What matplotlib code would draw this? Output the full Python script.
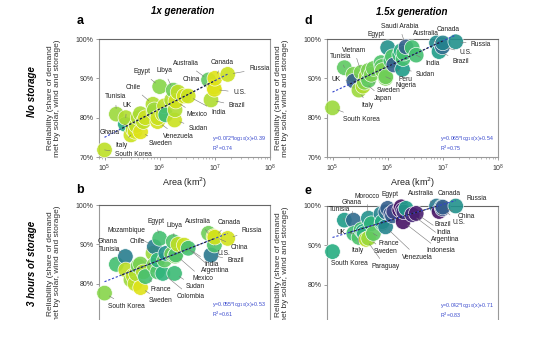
import numpy as np
import matplotlib
matplotlib.use("Agg")
import matplotlib.pyplot as plt
from matplotlib.ticker import PercentFormatter, LogLocator
from matplotlib.patches import Rectangle

plt.rcParams['font.family'] = ['Liberation Sans', 'DejaVu Sans']

# country areas (km2)
countries = ["South Korea", "Tunisia", "Ghana", "UK", "Italy", "Vietnam", "Germany",
             "Japan", "Paraguay", "Morocco", "Sweden", "Spain", "France", "Chile",
             "Turkey", "Mozambique", "Venezuela", "Nigeria", "Egypt", "Colombia",
             "South Africa", "Peru", "Iran", "Libya", "Sudan", "Indonesia", "Mexico",
             "Saudi Arabia", "Argentina", "India", "Australia", "Brazil", "China",
             "U.S.", "Canada", "Russia"]
area = [1.0e5, 1.64e5, 2.39e5, 2.43e5, 3.01e5, 3.31e5, 3.57e5,
        3.78e5, 4.07e5, 4.47e5, 4.50e5, 5.06e5, 5.51e5, 7.56e5,
        7.84e5, 8.01e5, 9.16e5, 9.24e5, 1.00e6, 1.14e6,
        1.22e6, 1.29e6, 1.65e6, 1.76e6, 1.86e6, 1.90e6, 1.96e6,
        2.15e6, 2.78e6, 3.29e6, 7.69e6, 8.52e6, 9.60e6,
        9.83e6, 9.98e6, 1.71e7]

# reliability and colour value per panel
rel_a = [0.718, 0.809, 0.783, 0.800, 0.756, 0.770, 0.765, 0.780, 0.800, 0.810, 0.764, 0.790,
         0.800, 0.834, 0.815, 0.820, 0.790, 0.800, 0.879, 0.810, 0.830, 0.807, 0.845, 0.870,
         0.794, 0.820, 0.842, 0.865, 0.855, 0.855, 0.896, 0.845, 0.878, 0.872, 0.900, 0.910]
col_a = [0.90, 0.85, 0.62, 0.88, 0.92, 0.90, 0.93, 0.90, 0.88, 0.87, 0.95, 0.90,
         0.92, 0.88, 0.90, 0.85, 0.93, 0.92, 0.82, 0.90, 0.90, 0.68, 0.88, 0.78,
         0.92, 0.88, 0.93, 0.90, 0.93, 0.92, 0.75, 0.88, 0.93, 0.95, 0.95, 0.92]

rel_b = [0.776, 0.849, 0.869, 0.835, 0.810, 0.820, 0.800, 0.825, 0.845, 0.850, 0.790, 0.830,
         0.818, 0.877, 0.847, 0.894, 0.830, 0.860, 0.915, 0.826, 0.860, 0.877, 0.875, 0.907,
         0.826, 0.870, 0.873, 0.900, 0.898, 0.890, 0.928, 0.873, 0.920, 0.898, 0.918, 0.915]
col_b = [0.82, 0.70, 0.42, 0.90, 0.85, 0.90, 0.90, 0.88, 0.78, 0.80, 0.95, 0.88,
         0.70, 0.85, 0.80, 0.42, 0.72, 0.65, 0.70, 0.65, 0.75, 0.50, 0.78, 0.72,
         0.68, 0.80, 0.72, 0.90, 0.92, 0.70, 0.78, 0.40, 0.95, 0.72, 0.93, 0.93]

rel_d = [0.825, 0.927, 0.910, 0.893, 0.870, 0.915, 0.880, 0.890, 0.905, 0.920, 0.895, 0.910,
         0.925, 0.940, 0.930, 0.920, 0.900, 0.904, 0.978, 0.945, 0.955, 0.934, 0.960, 0.970,
         0.923, 0.950, 0.964, 0.980, 0.978, 0.959, 0.990, 0.968, 0.985, 0.980, 0.990, 0.993]
col_d = [0.85, 0.75, 0.80, 0.30, 0.85, 0.80, 0.88, 0.82, 0.85, 0.80, 0.75, 0.80,
         0.78, 0.72, 0.75, 0.80, 0.80, 0.78, 0.50, 0.70, 0.72, 0.30, 0.68, 0.62,
         0.55, 0.70, 0.70, 0.30, 0.70, 0.70, 0.48, 0.55, 0.45, 0.35, 0.45, 0.50]

rel_e = [0.884, 0.964, 0.964, 0.930, 0.920, 0.940, 0.935, 0.930, 0.915, 0.969, 0.918, 0.955,
         0.930, 0.980, 0.956, 0.960, 0.947, 0.985, 0.994, 0.980, 0.975, 0.986, 0.990, 0.998,
         0.990, 0.960, 0.985, 0.994, 0.978, 0.981, 1.000, 0.986, 0.998, 0.993, 0.997, 1.000]
col_e = [0.62, 0.55, 0.35, 0.68, 0.72, 0.70, 0.60, 0.65, 0.90, 0.50, 0.85, 0.65,
         0.75, 0.45, 0.70, 0.60, 0.45, 0.35, 0.30, 0.25, 0.30, 0.20, 0.05, 0.05,
         0.10, 0.05, 0.15, 0.55, 0.12, 0.08, 0.40, 0.05, 0.45, 0.25, 0.30, 0.50]

# fit coefficients (slope, intercept, R2)
fit_a = (0.072, 0.39, 0.74)
fit_b = (0.055, 0.53, 0.61)
fit_d = (0.065, 0.54, 0.75)
fit_e = (0.042, 0.71, 0.83)

# label text positions: name -> (log10 x, y, ha)
labels_a = {"Russia": (7.62, 0.924, "left"), "Canada": (7.14, 0.940, "center"),
            "Australia": (6.48, 0.938, "center"), "China": (6.57, 0.898, "center"),
            "U.S.": (7.33, 0.864, "left"), "Brazil": (7.25, 0.830, "left"),
            "India": (7.07, 0.813, "center"), "Mexico": (6.67, 0.807, "center"),
            "Sudan": (6.70, 0.773, "center"), "Venezuela": (6.33, 0.753, "center"),
            "Sweden": (6.02, 0.735, "center"), "South Korea": (5.52, 0.707, "center"),
            "Italy": (5.31, 0.730, "center"), "Ghana": (5.09, 0.762, "center"),
            "UK": (5.40, 0.830, "center"), "Tunisia": (5.20, 0.853, "center"),
            "Chile": (5.52, 0.877, "center"), "Egypt": (5.68, 0.917, "center"),
            "Libya": (6.08, 0.919, "center")}
labels_b = {"Egypt": (5.93, 0.958, "center"), "Libya": (6.27, 0.949, "center"),
            "Australia": (6.70, 0.958, "center"), "Canada": (7.25, 0.956, "center"),
            "Russia": (7.49, 0.935, "left"), "Mozambique": (5.40, 0.935, "center"),
            "Ghana": (5.06, 0.908, "center"), "Chile": (5.59, 0.908, "center"),
            "Tunisia": (5.09, 0.886, "center"), "China": (7.44, 0.892, "center"),
            "U.S.": (7.16, 0.877, "center"), "Brazil": (7.38, 0.858, "center"),
            "India": (6.94, 0.850, "center"), "Argentina": (7.00, 0.833, "center"),
            "Mexico": (6.79, 0.812, "center"), "Sudan": (6.64, 0.792, "center"),
            "Colombia": (6.57, 0.767, "center"), "France": (6.02, 0.786, "center"),
            "Sweden": (6.02, 0.756, "center"), "South Korea": (5.39, 0.743, "center")}
labels_d = {"Saudi Arabia": (6.21, 1.033, "center"), "Australia": (6.69, 1.015, "center"),
            "Canada": (7.09, 1.025, "center"), "Russia": (7.51, 0.987, "left"),
            "U.S.": (7.42, 0.965, "center"), "Brazil": (7.33, 0.944, "center"),
            "India": (6.81, 0.938, "center"), "Sudan": (6.69, 0.911, "center"),
            "Peru": (6.33, 0.898, "center"), "Nigeria": (6.33, 0.881, "center"),
            "Sweden": (6.02, 0.869, "center"), "Japan": (5.92, 0.849, "center"),
            "Italy": (5.64, 0.830, "center"), "South Korea": (5.52, 0.796, "center"),
            "UK": (5.07, 0.898, "center"), "Tunisia": (5.15, 0.955, "center"),
            "Vietnam": (5.39, 0.972, "center"), "Egypt": (5.78, 1.012, "center")}
labels_e = {"Egypt": (6.05, 1.030, "center"), "Morocco": (5.62, 1.025, "center"),
            "Ghana": (5.35, 1.008, "center"), "Tunisia": (5.13, 0.990, "center"),
            "UK": (5.15, 0.932, "center"), "Australia": (6.60, 1.032, "center"),
            "Canada": (7.11, 1.032, "center"), "Russia": (7.42, 1.020, "left"),
            "China": (7.42, 0.973, "center"), "U.S.": (7.30, 0.958, "center"),
            "Brazil": (6.99, 0.954, "center"), "India": (7.02, 0.932, "center"),
            "Argentina": (7.05, 0.914, "center"), "Indonesia": (6.96, 0.886, "center"),
            "Venezuela": (6.54, 0.870, "center"), "France": (6.02, 0.905, "center"),
            "Sweden": (5.96, 0.884, "center"), "Italy": (5.46, 0.886, "center"),
            "South Korea": (5.30, 0.854, "center"), "Paraguay": (5.96, 0.846, "center")}

W, H = 540, 352
fig = plt.figure(figsize=(W / 100, H / 100), dpi=100)

def box(left, top):
    return [left / W, 1 - (top + 118) / H, 171 / W, 118 / H]

panels = [("a", box(99, 39), rel_a, col_a, fit_a, labels_a, True),
          ("b", box(99, 205), rel_b, col_b, fit_b, labels_b, False),
          ("d", box(327, 39), rel_d, col_d, fit_d, labels_d, True),
          ("e", box(327, 206), rel_e, col_e, fit_e, labels_e, False)]

x = np.array(area)
lx = np.log10(x)
for letter, pos, rel, col, fit, labels, top_row in panels:
    ax = fig.add_axes(pos)
    ax.set_xscale("log")
    ax.set_xlim(10 ** 4.9, 1e8)
    ax.set_ylim(0.7, 1.0)
    ax.scatter(x, rel, s=125, c=col, cmap="viridis", vmin=0, vmax=1, alpha=0.9,
               edgecolors="white", linewidths=0.5, zorder=3, clip_on=False)
    # fit line
    xx = np.linspace(lx.min(), lx.max(), 50)
    yy = fit[0] * xx + fit[1]
    ax.plot(10 ** xx, yy, color="#3344cc", lw=0.8, dashes=(2, 1.6), zorder=4, clip_on=False)
    mid = (xx > 5.3) & (xx < 7.05)
    ax.plot(10 ** xx[mid], yy[mid], color="#222222", lw=0.8, dashes=(1.8, 1.8), zorder=4)
    ax.text(0.66, 0.035, "y=%.3f*log$_{10}$(x)+%.2f\nR$^2$=%.2f" % fit,
            transform=ax.transAxes, fontsize=3.8, color="#3344cc", va="bottom",
            linespacing=1.1)
    # labels
    for name, (tx, ty, ha) in labels.items():
        i = countries.index(name)
        ax.annotate(name, xy=(x[i], rel[i]), xytext=(10 ** tx, ty), fontsize=4.8,
                    ha=ha, va="center", color="#222222", zorder=5, annotation_clip=False,
                    arrowprops=dict(arrowstyle="-", color="#777777", lw=0.4,
                                    shrinkA=1.5, shrinkB=4))
    for s in ax.spines.values():
        s.set_color("#999999")
        s.set_linewidth(0.8)
    ax.spines["top"].set_color("#666666")
    ax.yaxis.set_major_formatter(PercentFormatter(xmax=1, decimals=0))
    ax.set_yticks([0.7, 0.8, 0.9, 1.0])
    ax.xaxis.set_major_locator(LogLocator(base=10, numticks=10))
    ax.tick_params(labelsize=5, length=2.5, width=0.5, color="#777777", pad=1.5,
                   labelcolor="#333333")
    ax.tick_params(which="minor", length=1.5, width=0.4, color="#888888")
    ax.set_ylabel("Reliability (share of demand\nmet by solar, wind and storage)",
                  fontsize=6, linespacing=1.1, color="#333333")
    ax.yaxis.set_label_coords(-0.22, 0.5)
    if top_row:
        ax.set_xlabel("Area (km$^2$)", fontsize=6.5, labelpad=1, color="#222222")
    else:
        # x axis of the bottom row is cut off in the reference
        ax.tick_params(axis="x", which="both", labelbottom=False)
    ax.text(-0.11, 1.15 if top_row else 1.13, letter, transform=ax.transAxes,
            fontsize=9, fontweight="bold", va="center", ha="center")

fig.text(183 / W, 1 - 11 / H, "1x generation", fontsize=7, fontweight="bold",
         fontstyle="italic", ha="center", va="center")
fig.text(412 / W, 1 - 12 / H, "1.5x generation", fontsize=7, fontweight="bold",
         fontstyle="italic", ha="center", va="center")
fig.text(32 / W, 1 - 92 / H, "No storage", fontsize=7, fontweight="bold",
         fontstyle="italic", rotation=90, ha="center", va="center")
fig.text(32 / W, 1 - 263 / H, "3 hours of storage", fontsize=7, fontweight="bold",
         fontstyle="italic", rotation=90, ha="center", va="center")

# the reference is cut off below the bottom row
fig.patches.append(Rectangle((0, 0), 1, 32 / H, transform=fig.transFigure,
                             facecolor="white", edgecolor="none", zorder=100))

fig.savefig("out.png", dpi=100)
